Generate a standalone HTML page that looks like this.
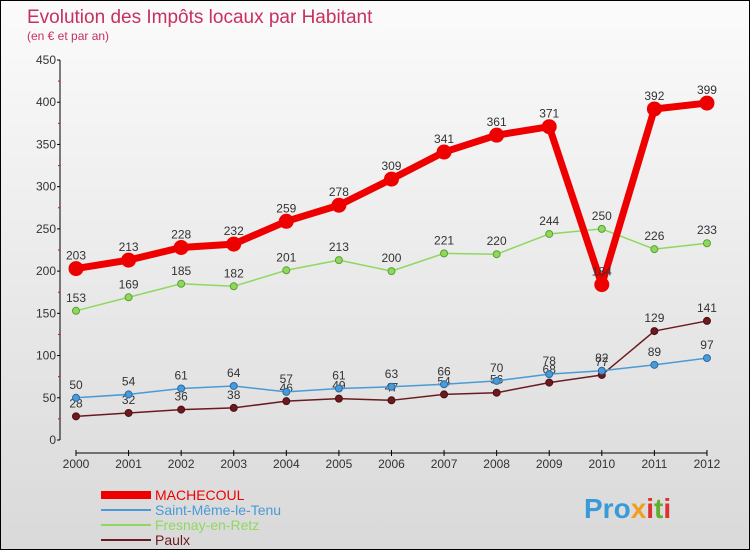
<!DOCTYPE html>
<html><head><meta charset="utf-8"><style>
body{margin:0;width:750px;height:550px;overflow:hidden;font-family:"Liberation Sans",sans-serif}
#wrap{position:relative;width:748px;height:548px;border:1px solid #000;background:linear-gradient(#fbfbfb,#d9d9d9)}
</style></head><body>
<div id="wrap">
<svg id="chart" width="748" height="548" xmlns="http://www.w3.org/2000/svg">
<text x="26" y="22" font-size="19" fill="#c8305e">Evolution des Impôts locaux par Habitant</text>
<text x="26" y="39" font-size="12" fill="#c8305e">(en € et par an)</text>
<g id="axes"></g><g id="series"></g><g id="legend"></g>
<text x="583" y="517" font-size="28" font-weight="bold" fill="#3a9ad9">Pro<tspan fill="#f0a020">x</tspan><tspan fill="#e03030">i</tspan><tspan fill="#60b030">t</tspan><tspan fill="#e03030">i</tspan></text>
</svg></div>
<script>
const years=[2000,2001,2002,2003,2004,2005,2006,2007,2008,2009,2010,2011,2012];
const yTicks=[0,50,100,150,200,250,300,350,400,450];
const machecoul=[203,213,228,232,259,278,309,341,361,371,184,392,399];
const saintMeme=[50,54,61,64,57,61,63,66,70,78,82,89,97];
const fresnay=[153,169,185,182,201,213,200,221,220,244,250,226,233];
const paulx=[28,32,36,38,46,49,47,54,56,68,77,129,141];
const NS="http://www.w3.org/2000/svg";
const X=i=>75+i*52.58, Y=v=>439-v*380/450;
function mk(p,t,a){const e=document.createElementNS(NS,t);for(const k in a)e.setAttribute(k,a[k]);p.appendChild(e);return e;}
const ax=document.getElementById('axes');
let e=mk(ax,'line',{x1:59,y1:Y(450),x2:59,y2:Y(0),stroke:'#000'});


e=mk(ax,'line',{x1:75,y1:452,x2:X(12),y2:452,stroke:'#000'});


yTicks.forEach(v=>{mk(ax,'line',{x1:56,y1:Y(v),x2:59,y2:Y(v),stroke:'#000'});
if(v<450)mk(ax,'line',{x1:57,y1:Y(v+25),x2:59,y2:Y(v+25),stroke:'#e00'});
const t=mk(ax,'text',{x:55,y:Y(v)+4,'font-size':12,fill:'#333','text-anchor':'end'});t.textContent=v;

});
years.forEach((y,i)=>{mk(ax,'line',{x1:X(i),y1:449,x2:X(i),y2:455,stroke:'#000'});
const t=mk(ax,'text',{x:X(i),y:467,'font-size':12,fill:'#333','text-anchor':'middle'});t.textContent=y;

});
const sg=document.getElementById('series');
function series(d,col,w,r,name,dark){const g=mk(sg,'g',{});


mk(g,'polyline',{points:d.map((v,i)=>X(i)+','+Y(v)).join(' '),fill:'none',stroke:col,'stroke-width':w,'stroke-linejoin':'round'});
d.forEach((v,i)=>{const c=mk(g,'circle',{cx:X(i),cy:Y(v),r:r,fill:col,stroke:dark,'stroke-width':1});


const t=mk(g,'text',{x:X(i),y:Y(v)-9,'font-size':12,fill:'#333','text-anchor':'middle'});t.textContent=v;});}
series(paulx,'#6b1a1f',1.5,3.5,'paulx-series','#4a0f12');
series(saintMeme,'#4a9ad6',1.5,3.5,'saint-meme-series','#2a6aa6');
series(fresnay,'#8fd860',1.5,3.5,'fresnay-series','#5aa030');
series(machecoul,'#ee0000',7,7,'machecoul-series','#ee0000');
const lg=document.getElementById('legend');
[['MACHECOUL','#ee0000',8],['Saint-Même-le-Tenu','#4a9ad6',2],['Fresnay-en-Retz','#8fd860',2],['Paulx','#6b1a1f',2]].forEach((s,i)=>{
const y=494+i*15;const g=mk(lg,'g',{});


mk(g,'line',{x1:100,y1:y,x2:150,y2:y,stroke:s[1],'stroke-width':s[2]});
const t=mk(g,'text',{x:154,y:y+5,'font-size':14,fill:s[1]==='#ee0000'?'#ee0000':s[1]});t.textContent=s[0];});
</script>
</body></html>
